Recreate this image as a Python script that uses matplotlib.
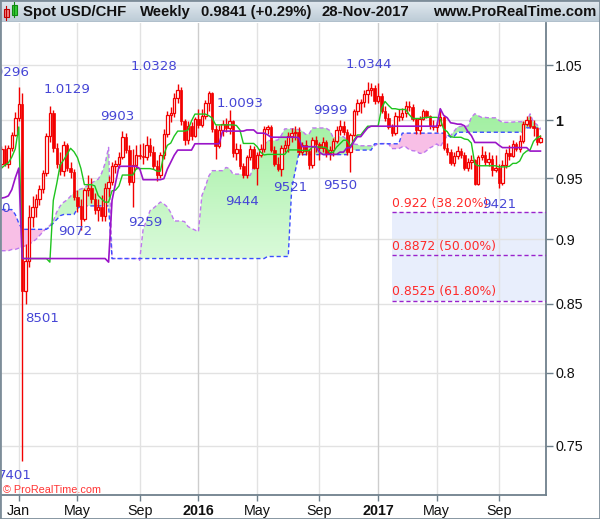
import numpy as np
import pandas as pd
import matplotlib
matplotlib.use("Agg")
import matplotlib.pyplot as plt
from matplotlib.colors import LinearSegmentedColormap
from matplotlib.patches import Rectangle
from matplotlib.path import Path
from matplotlib.ticker import FixedLocator, NullLocator

W, H = 600, 519

# weekly USD/CHF bars, Monday of each week
first_week = "2014-12-01"
first_open = 0.9620
highs = [
    0.9770, 0.9780, 0.9780, 0.9900, 1.0070, 1.0296, 1.0240, 0.8960, 0.9280, 0.9350,
    0.9370, 0.9440, 0.9570, 0.9890, 1.0129, 1.0090, 0.9800, 0.9720, 0.9820, 0.9800,
    0.9640, 0.9580, 0.9400, 0.9330, 0.9420, 0.9530, 0.9500, 0.9380, 0.9330, 0.9360,
    0.9460, 0.9520, 0.9640, 0.9650, 0.9720, 0.9903, 0.9890, 0.9780, 0.9750, 0.9780,
    0.9790, 0.9800, 0.9860, 0.9840, 0.9770, 0.9650, 0.9720, 0.9920, 1.0080, 1.0120,
    1.0240, 1.0328, 1.0300, 1.0010, 0.9990, 0.9980, 1.0030, 1.0100, 1.0100, 1.0180,
    1.0257, 1.0250, 0.9960, 0.9960, 1.0000, 1.0020, 1.0093, 1.0000, 0.9800, 0.9790,
    0.9630, 0.9700, 0.9780, 0.9770, 0.9720, 0.9790, 0.9950, 0.9960, 0.9960, 0.9770,
    0.9680, 0.9780, 0.9830, 0.9900, 0.9930, 0.9950, 0.9940, 0.9810, 0.9830, 0.9750,
    0.9850, 0.9860, 0.9810, 0.9850, 0.9830, 0.9770, 0.9840, 0.9950, 0.9999, 0.9990,
    0.9920, 0.9890, 1.0100, 1.0190, 1.0190, 1.0270, 1.0344, 1.0330, 1.0320, 1.0330,
    1.0240, 1.0130, 1.0060, 0.9970, 1.0070, 1.0100, 1.0110, 1.0170, 1.0170, 1.0140,
    1.0020, 1.0040, 1.0100, 1.0090, 1.0050, 1.0000, 0.9990, 1.0100, 1.0040, 0.9800,
    0.9750, 0.9720, 0.9770, 0.9760, 0.9720, 0.9670, 0.9700, 0.9660, 0.9700, 0.9770,
    0.9730, 0.9720, 0.9700, 0.9700, 0.9620, 0.9650, 0.9750, 0.9780, 0.9830, 0.9810,
    0.9870, 0.9990, 1.0040, 1.0040, 1.0000, 0.9940, 0.9870,
]
lows = [
    0.9590, 0.9600, 0.9590, 0.9730, 0.9860, 0.9990, 0.7401, 0.8501, 0.8780, 0.9100,
    0.9180, 0.9280, 0.9380, 0.9520, 0.9810, 0.9720, 0.9590, 0.9530, 0.9520, 0.9560,
    0.9500, 0.9320, 0.9220, 0.9072, 0.9150, 0.9350, 0.9290, 0.9200, 0.9150, 0.9150,
    0.9150, 0.9340, 0.9440, 0.9540, 0.9590, 0.9660, 0.9710, 0.9440, 0.9259, 0.9580,
    0.9660, 0.9620, 0.9650, 0.9690, 0.9580, 0.9480, 0.9500, 0.9660, 0.9850, 0.9980,
    1.0030, 1.0150, 0.9960, 0.9780, 0.9790, 0.9830, 0.9850, 0.9930, 0.9940, 1.0010,
    1.0080, 0.9900, 0.9660, 0.9760, 0.9860, 0.9900, 0.9880, 0.9680, 0.9650, 0.9580,
    0.9500, 0.9500, 0.9650, 0.9580, 0.9444, 0.9680, 0.9720, 0.9880, 0.9720, 0.9600,
    0.9560, 0.9521, 0.9720, 0.9720, 0.9810, 0.9830, 0.9700, 0.9700, 0.9700, 0.9580,
    0.9590, 0.9720, 0.9650, 0.9720, 0.9680, 0.9650, 0.9690, 0.9800, 0.9870, 0.9870,
    0.9700, 0.9550, 0.9860, 1.0050, 1.0060, 1.0120, 1.0150, 1.0220, 1.0140, 1.0150,
    1.0060, 0.9990, 0.9920, 0.9860, 0.9870, 0.9990, 1.0000, 1.0030, 1.0080, 0.9990,
    0.9880, 0.9880, 1.0000, 1.0020, 0.9920, 0.9910, 0.9900, 0.9950, 0.9740, 0.9700,
    0.9610, 0.9600, 0.9660, 0.9670, 0.9570, 0.9560, 0.9580, 0.9440, 0.9440, 0.9650,
    0.9610, 0.9600, 0.9520, 0.9550, 0.9421, 0.9440, 0.9590, 0.9650, 0.9680, 0.9730,
    0.9720, 0.9800, 0.9950, 0.9930, 0.9860, 0.9780, 0.9800,
]
closes = [
    0.9750, 0.9620, 0.9760, 0.9870, 1.0020, 1.0140, 0.8600, 0.8830, 0.9180, 0.9260,
    0.9330, 0.9410, 0.9540, 0.9860, 1.0060, 0.9760, 0.9620, 0.9560, 0.9780, 0.9590,
    0.9550, 0.9340, 0.9270, 0.9160, 0.9400, 0.9420, 0.9330, 0.9240, 0.9260, 0.9190,
    0.9420, 0.9470, 0.9600, 0.9620, 0.9680, 0.9850, 0.9740, 0.9470, 0.9610, 0.9700,
    0.9690, 0.9680, 0.9780, 0.9720, 0.9600, 0.9530, 0.9700, 0.9880, 1.0050, 1.0060,
    1.0200, 1.0270, 0.9990, 0.9830, 0.9950, 0.9860, 1.0010, 0.9960, 1.0040, 1.0150,
    1.0240, 0.9920, 0.9770, 0.9910, 0.9970, 0.9930, 0.9990, 0.9710, 0.9750, 0.9600,
    0.9530, 0.9680, 0.9750, 0.9590, 0.9700, 0.9750, 0.9920, 0.9940, 0.9740, 0.9620,
    0.9580, 0.9760, 0.9780, 0.9860, 0.9890, 0.9900, 0.9720, 0.9780, 0.9730, 0.9610,
    0.9830, 0.9790, 0.9760, 0.9810, 0.9710, 0.9740, 0.9820, 0.9910, 0.9950, 0.9900,
    0.9720, 0.9870, 1.0080, 1.0150, 1.0160, 1.0230, 1.0270, 1.0290, 1.0170, 1.0220,
    1.0080, 1.0020, 0.9940, 0.9890, 1.0040, 1.0030, 1.0060, 1.0130, 1.0120, 1.0010,
    0.9910, 1.0010, 1.0080, 1.0040, 0.9950, 0.9940, 0.9960, 1.0030, 0.9760, 0.9720,
    0.9630, 0.9690, 0.9730, 0.9700, 0.9590, 0.9640, 0.9650, 0.9450, 0.9680, 0.9700,
    0.9640, 0.9660, 0.9570, 0.9590, 0.9460, 0.9610, 0.9710, 0.9690, 0.9790, 0.9750,
    0.9820, 0.9970, 1.0000, 0.9950, 0.9930, 0.9813, 0.9841,
]

# ichimoku values at the left edge (they depend on bars before the window)
tenkan_head = [0.9585, 0.9610, 0.9630, 0.9680, 0.9750, 0.9940]
kijun_head = [0.9334, 0.9340, 0.9353, 0.9405, 0.9503, 0.9585]
span_a_head = [0.891, 0.891, 0.891, 0.892, 0.892, 0.893, 0.894, 0.895, 0.896, 0.898,
               0.900, 0.903, 0.906, 0.909, 0.911, 0.915, 0.922, 0.927, 0.930, 0.932,
               0.935, 0.938, 0.940, 0.941, 0.942, 0.944]
span_b_head = [0.924, 0.924, 0.924, 0.924, 0.920, 0.913, 0.908, 0.908, 0.908, 0.908,
               0.908, 0.908, 0.908, 0.908, 0.910, 0.913, 0.916, 0.919, 0.920, 0.920,
               0.920, 0.920, 0.925, 0.927, 0.927, 0.927, 0.927, 0.927, 0.927, 0.927,
               0.927, 0.927]

# swing points marked on the chart
pivot_bars = [5, 14, 35, 51, 66, 98, 106, 6, 7, 23, 38, 74, 81, 101, 144]
pivot_is_high = [True] * 7 + [False] * 8
label_dx = [-13, 17, -5, -24, 10, -10, 1, -7, 16, -6, 13, -15, 9, -10, 0]
label_dy = [15, 16, 15, 17, 6, 10, 17, -15, -15, -1, -15, -17, -12, -13, -17]

fib_ratios = [0.382, 0.5, 0.618]
fib_start_bar = 113

y_ticks = [0.75, 0.8, 0.85, 0.9, 0.95, 1.0, 1.05]

RED = "#f20000"
BLUE_LBL = "#4646d6"
GRID = "#e2e2e2"
AXC = "#6f808c"

n = len(closes)
opens = [first_open] + closes[:-1]
dates = pd.date_range(first_week, periods=n, freq="7D")


def midpoint(i0, i1):
    i0 = max(i0, 0)
    return (max(highs[i0:i1 + 1]) + min(lows[i0:i1 + 1])) / 2


tenkan = [tenkan_head[i] if i < len(tenkan_head) else midpoint(i - 8, i) for i in range(n)]
kijun = [kijun_head[i] if i < len(kijun_head) else midpoint(i - 25, i) for i in range(n)]
span_a = [span_a_head[i] if i < len(span_a_head) else (tenkan[i - 26] + kijun[i - 26]) / 2 for i in range(n)]
span_b = [span_b_head[i] if i < len(span_b_head) else midpoint(i - 77, i - 26) for i in range(n)]

# pixel layout of the price panel (log scale)
PX_PER_LN = 1131.0
ax_left, ax_right, ax_top, ax_bot = 1, 545.5, 22.5, 494.5
bar_px0, bar_step = 1.475, 3.455


def val_at(py):
    return 1.05 * np.exp(-(py - 65) / PX_PER_LN)


fig = plt.figure(figsize=(W / 100, H / 100), dpi=100)
fig.patch.set_facecolor("white")
ax = fig.add_axes([ax_left / W, 1 - ax_bot / H, (ax_right - ax_left) / W, (ax_bot - ax_top) / H])
ax.set_yscale("log")
ax.set_xlim((ax_left - bar_px0) / bar_step, (ax_right - bar_px0) / bar_step)
ax.set_ylim(val_at(ax_bot), val_at(ax_top))
ax.set_autoscale_on(False)

x = np.arange(n)
o = np.array(opens)
c = np.array(closes)
hi = np.array(highs)
lo = np.array(lows)
a = np.array(span_a)
b = np.array(span_b)

# fibonacci zone
hi_all, lo_all = max(highs), min(lows)
fib_levels = [hi_all - r * (hi_all - lo_all) for r in fib_ratios]
x_end = ax.get_xlim()[1]
ax.add_patch(Rectangle((fib_start_bar, min(fib_levels)), x_end - fib_start_bar,
                       max(fib_levels) - min(fib_levels), facecolor="#e8eefc",
                       edgecolor="none", zorder=0.5))

# grid
ax.yaxis.set_major_locator(FixedLocator(y_ticks))
ax.yaxis.set_minor_locator(NullLocator())
tick_idx = [i for i in range(1, n) if dates[i].month != dates[i - 1].month and dates[i].month in (1, 5, 9)]
tick_lbl = []
for k, i in enumerate(tick_idx):
    if dates[i].month == 1 and k > 0:
        tick_lbl.append(str(dates[i].year))
    else:
        tick_lbl.append(dates[i].strftime("%b"))
ax.set_xticks(tick_idx)
ax.set_xticklabels(tick_lbl)
ax.set_yticklabels([f"{v:g}" for v in y_ticks])
for v in y_ticks:
    ax.axhline(v, color=GRID, lw=1, zorder=0.8)
for i, t in zip(tick_idx, tick_lbl):
    ax.axvline(i, color="#cdcdcd" if t.isdigit() else GRID, lw=1, zorder=0.8)

# cloud
green = ax.fill_between(x, a, b, where=a >= b, interpolate=True, facecolor="none", edgecolor="none")
ax.fill_between(x, a, b, where=a < b, interpolate=True, facecolor="#f8bfe6", edgecolor="none", zorder=2)
rows = np.linspace(1, 0, 300)
shade = np.clip((0.86 - rows) / (0.86 - 0.42), 0, 1).reshape(-1, 1)
cloud_cmap = LinearSegmentedColormap.from_list("cloud", ["#98ee98", "#e9fde9"])
im = ax.imshow(shade, cmap=cloud_cmap, vmin=0, vmax=1, extent=(0, 1, 0, 1),
               transform=ax.transAxes, aspect="auto", zorder=2)
im.set_clip_path(Path.make_compound_path(*green.get_paths()), transform=ax.transData)
ax.plot(x, a, color="#bf78ee", lw=1, dashes=(3, 2), zorder=3)
ax.plot(x, b, color="#3c4cff", lw=1, dashes=(3, 2), zorder=3)

# fib lines and labels
for r, lvl in zip(fib_ratios, fib_levels):
    ax.plot([fib_start_bar, x_end], [lvl, lvl], color="#9a22cc", lw=1, dashes=(3, 2), zorder=3)
    txt = f"{lvl:.4f}".rstrip("0") + f" ({r * 100:.2f}%)"
    ax.annotate(txt, (fib_start_bar, lvl), xytext=(0, 9), textcoords="offset pixels",
                ha="left", va="center", color="#ff2a2a", fontsize=8.9,
                family="DejaVu Sans", zorder=9)

# candles
ax.vlines(x, lo, hi, color=RED, lw=1, zorder=4)
body_lo = np.minimum(o, c)
body_h = np.maximum(np.abs(c - o), 0.0006)
up = c >= o
ax.bar(x[up], body_h[up], bottom=body_lo[up], width=0.7, facecolor="white",
       edgecolor=RED, lw=0.9, zorder=5)
ax.bar(x[~up], body_h[~up], bottom=body_lo[~up], width=0.7, facecolor=RED,
       edgecolor=RED, lw=0.5, zorder=5)

# tenkan / kijun
ax.plot(x, tenkan, color="#1ec41e", lw=1, zorder=6)
ax.plot(x, kijun, color="#9a14c8", lw=1.2, zorder=6)

# swing labels
for bar, is_hi, dx, dy in zip(pivot_bars, pivot_is_high, label_dx, label_dy):
    price = highs[bar] if is_hi else lows[bar]
    txt = f"{price:.4f}" if price >= 1 else f"{price:.4f}"[2:]
    ax.annotate(txt, (bar, price), xytext=(dx, dy), textcoords="offset pixels",
                ha="center", va="center", color=BLUE_LBL, fontsize=9.6,
                family="DejaVu Sans", clip_on=True, annotation_clip=False, zorder=9)
ax.text((10 - bar_px0) / bar_step, val_at(208), "0", ha="right", va="center",
        color=BLUE_LBL, fontsize=9.6, family="DejaVu Sans", clip_on=True, zorder=9)

# axes styling
for side in ("left", "top"):
    ax.spines[side].set_visible(False)
for side in ("right", "bottom"):
    ax.spines[side].set_color(AXC)
    ax.spines[side].set_linewidth(1.3)
ax.yaxis.tick_right()
ax.tick_params(axis="y", which="both", length=5, width=1, color=AXC, pad=2,
               labelsize=10.3, labelcolor="#111111")
ax.tick_params(axis="x", length=4, width=1, color=AXC, pad=3,
               labelsize=10.3, labelcolor="#111111")
for lab in ax.get_yticklabels() + ax.get_xticklabels():
    lab.set_family("Liberation Sans")
for lab, v in zip(ax.get_yticklabels(), y_ticks):
    if v == 1.0:
        lab.set_fontweight("bold")
for lab, t in zip(ax.get_xticklabels(), tick_lbl):
    if t.isdigit():
        lab.set_fontweight("bold")

fig.text(3 / W, 1 - 490 / H, "\u00a9 ProRealTime.com", color="#ff3434", fontsize=7.8,
         family="Liberation Sans", ha="left", va="center")

# title bar
tb = fig.add_axes([0, 1 - 22 / H, 1, 22 / H])
tb.set_xlim(0, W)
tb.set_ylim(22, 0)
tb.axis("off")
bar_cmap = LinearSegmentedColormap.from_list("bar", ["#e2eaf0", "#bccbd6"])
tb.imshow(np.linspace(0, 1, 40).reshape(-1, 1), cmap=bar_cmap, extent=(0, W, 22, 0), aspect="auto")
tb.axhline(21.6, color="#8797a3", lw=1)
tb.add_patch(Rectangle((3.5, 9), 5.5, 8.5, facecolor="#f08080", edgecolor="#c00000", lw=0.8))
tb.plot([6.25, 6.25], [6, 20], color="#c00000", lw=0.8)
tb.add_patch(Rectangle((11.5, 4.5), 5.5, 10.5, facecolor="#33cc33", edgecolor="#118811", lw=0.8))
tb.plot([14.25, 14.25], [2, 17.5], color="#118811", lw=0.8)
change = (closes[-1] / closes[-2] - 1) * 100
title_parts = [
    (23, "Spot USD/CHF"),
    (140, "Weekly"),
    (201, f"{closes[-1]:.4f} ({change:+.2f}%)"),
    (321, "28-Nov-2017"),
    (433, "www.ProRealTime.com"),
]
for px, s in title_parts:
    tb.text(px, 12.3, s, ha="left", va="center", fontsize=10.7, fontweight="bold",
            family="Liberation Sans", color="#111111")

fig.patches.append(Rectangle((0, 0), 1, 1, transform=fig.transFigure, fill=False,
                             edgecolor="#7d8d99", lw=2))

fig.savefig("out.png", dpi=100)
